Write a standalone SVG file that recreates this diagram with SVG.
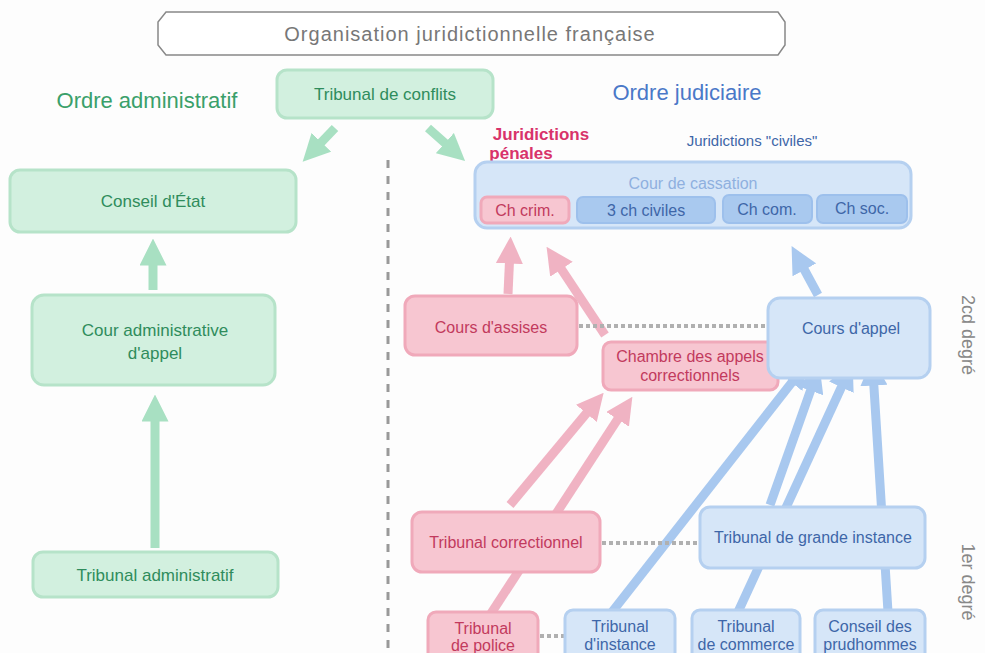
<svg xmlns="http://www.w3.org/2000/svg" width="985" height="653" viewBox="0 0 985 653">
<style>
text{font-family:"Liberation Sans",Arial,sans-serif;text-anchor:middle}
.g{fill:#d2f0df;stroke:#b6e3c9;stroke-width:3}
.gt{fill:#2f8c5c;font-size:17px}
.p{fill:#f7c6d1;stroke:#f0a9ba;stroke-width:3}
.pt{fill:#c23a5d;font-size:16px}
.b{fill:#d6e6f8;stroke:#b5d0f0;stroke-width:3}
.bi{fill:#a9c9ef;stroke:#9dc0ec;stroke-width:2}
.bt{fill:#3e66a8;font-size:16px}
.ga{stroke:#a8e0c2;stroke-width:9;fill:none}
.pa{stroke:#f0b3c3;stroke-width:9;fill:none}
.ba{stroke:#a8c8ef;stroke-width:9;fill:none}
.dot{stroke:#b0b0b0;stroke-width:4;stroke-dasharray:4 3}
</style>
<defs>
<marker id="mg" viewBox="0 0 10 10" refX="5" refY="5" markerWidth="3" markerHeight="3" orient="auto"><path d="M0,0L10,5L0,10z" fill="#a8e0c2"/></marker>
<marker id="mp" viewBox="0 0 10 10" refX="5" refY="5" markerWidth="3" markerHeight="3" orient="auto"><path d="M0,0L10,5L0,10z" fill="#f0b3c3"/></marker>
<marker id="mb" viewBox="0 0 10 10" refX="5" refY="5" markerWidth="3" markerHeight="3" orient="auto"><path d="M0,0L10,5L0,10z" fill="#a8c8ef"/></marker>
</defs>
<rect width="985" height="653" fill="#fdfdfd"/>
<g id="title"><path d="M166,12H778L785,22V45L778,55H166L158,45V22Z" fill="#fff" stroke="#888" stroke-width="1.5"/>
<text x="470" y="41" fill="#777" font-size="20" letter-spacing="1">Organisation juridictionnelle française</text></g>
<line x1="388" y1="160" x2="388" y2="653" stroke="#999" stroke-width="3" stroke-dasharray="8 8"/>
<text x="147" y="108" fill="#3aa06a" font-size="22">Ordre administratif</text>
<text x="687" y="100" fill="#4a78c8" font-size="22">Ordre judiciaire</text>
<text x="541" y="140" fill="#d8336a" font-size="17" font-weight="bold">Juridictions</text>
<text x="521" y="159" fill="#d8336a" font-size="17" font-weight="bold">pénales</text>
<text x="752" y="146" fill="#3e66a8" font-size="15">Juridictions "civiles"</text>
<text transform="translate(962,335) rotate(90)" fill="#888" font-size="18">2cd degré</text>
<text transform="translate(962,582) rotate(90)" fill="#888" font-size="18">1er degré</text>
<g id="connectors">
<line class="ga" x1="335" y1="128" x2="312" y2="152" marker-end="url(#mg)"/>
<line class="ga" x1="428" y1="128" x2="455" y2="152" marker-end="url(#mg)"/>
<line class="ga" x1="153" y1="290" x2="153" y2="252" marker-end="url(#mg)"/>
<line class="ga" x1="155" y1="548" x2="155" y2="408" marker-end="url(#mg)"/>
<line class="pa" x1="508" y1="294" x2="510" y2="250" marker-end="url(#mp)"/>
<line class="pa" x1="605" y1="335" x2="554" y2="258" marker-end="url(#mp)"/>
<line class="pa" x1="510" y1="505" x2="595" y2="403" marker-end="url(#mp)"/>
<line class="pa" x1="490" y1="615" x2="625" y2="408" marker-end="url(#mp)"/>
<line class="ba" x1="818" y1="295" x2="798" y2="258" marker-end="url(#mb)"/>
<line class="ba" x1="612" y1="612" x2="800" y2="372" marker-end="url(#mb)"/>
<line class="ba" x1="770" y1="505" x2="815" y2="378" marker-end="url(#mb)"/>
<line class="ba" x1="738" y1="612" x2="847" y2="375" marker-end="url(#mb)"/>
<line class="ba" x1="888" y1="612" x2="873" y2="372" marker-end="url(#mb)"/>
<line class="dot" x1="579" y1="326" x2="768" y2="326"/>
<line class="dot" x1="602" y1="543" x2="700" y2="543"/>
<line class="dot" x1="540" y1="636" x2="565" y2="636"/>
</g>
<g id="tconflits"><rect class="g" x="277" y="70" width="216" height="48" rx="10"/><text class="gt" x="385" y="100">Tribunal de conflits</text></g>
<g id="ce"><rect class="g" x="10" y="170" width="286" height="62" rx="10"/><text class="gt" x="153" y="207">Conseil d'État</text></g>
<g id="caa"><rect class="g" x="32" y="295" width="243" height="90" rx="12"/><text class="gt" x="155" y="336">Cour administrative</text><text class="gt" x="155" y="359">d'appel</text></g>
<g id="ta"><rect class="g" x="33" y="552" width="245" height="45" rx="10"/><text class="gt" x="155" y="581">Tribunal administratif</text></g>
<g id="cassation"><rect class="b" x="475" y="162" width="436" height="66" rx="12"/>
<text x="693" y="189" fill="#8fb0df" font-size="16">Cour de cassation</text>
<rect class="p" x="481" y="197" width="88" height="26" rx="6"/><text class="pt" x="525" y="216">Ch crim.</text>
<rect class="bi" x="577" y="197" width="138" height="26" rx="6"/><text class="bt" x="646" y="216">3 ch civiles</text>
<rect class="bi" x="723" y="195" width="89" height="28" rx="6"/><text class="bt" x="767" y="215">Ch com.</text>
<rect class="bi" x="817" y="195" width="90" height="28" rx="6"/><text class="bt" x="862" y="214">Ch soc.</text></g>
<g id="assises"><rect class="p" x="405" y="296" width="172" height="59" rx="10"/><text class="pt" x="491" y="333" font-size="17">Cours d'assises</text></g>
<g id="chambre"><rect class="p" x="603" y="342" width="175" height="48" rx="8"/><text class="pt" x="690" y="362" font-size="14">Chambre des appels</text><text class="pt" x="690" y="381" font-size="14">correctionnels</text></g>
<g id="appel"><rect class="b" x="768" y="298" width="162" height="80" rx="12"/><text class="bt" x="851" y="334" font-size="17">Cours d'appel</text></g>
<g id="correctionnel"><rect class="p" x="412" y="512" width="188" height="60" rx="10"/><text class="pt" x="506" y="548" font-size="14">Tribunal correctionnel</text></g>
<g id="tgi"><rect class="b" x="700" y="507" width="225" height="61" rx="10"/><text class="bt" x="813" y="543" font-size="14">Tribunal de grande instance</text></g>
<g id="police"><rect class="p" x="428" y="612" width="110" height="50" rx="8"/><text class="pt" x="483" y="634" font-size="14">Tribunal</text><text class="pt" x="483" y="651" font-size="14">de police</text></g>
<g id="instance"><rect class="b" x="565" y="610" width="110" height="52" rx="8"/><text class="bt" x="620" y="632" font-size="14">Tribunal</text><text class="bt" x="620" y="650" font-size="14">d'instance</text></g>
<g id="commerce"><rect class="b" x="692" y="610" width="108" height="52" rx="8"/><text class="bt" x="746" y="632" font-size="14">Tribunal</text><text class="bt" x="746" y="650" font-size="14">de commerce</text></g>
<g id="prud"><rect class="b" x="815" y="610" width="110" height="52" rx="8"/><text class="bt" x="870" y="632" font-size="14">Conseil des</text><text class="bt" x="870" y="650" font-size="14">prudhommes</text></g>
</svg>
